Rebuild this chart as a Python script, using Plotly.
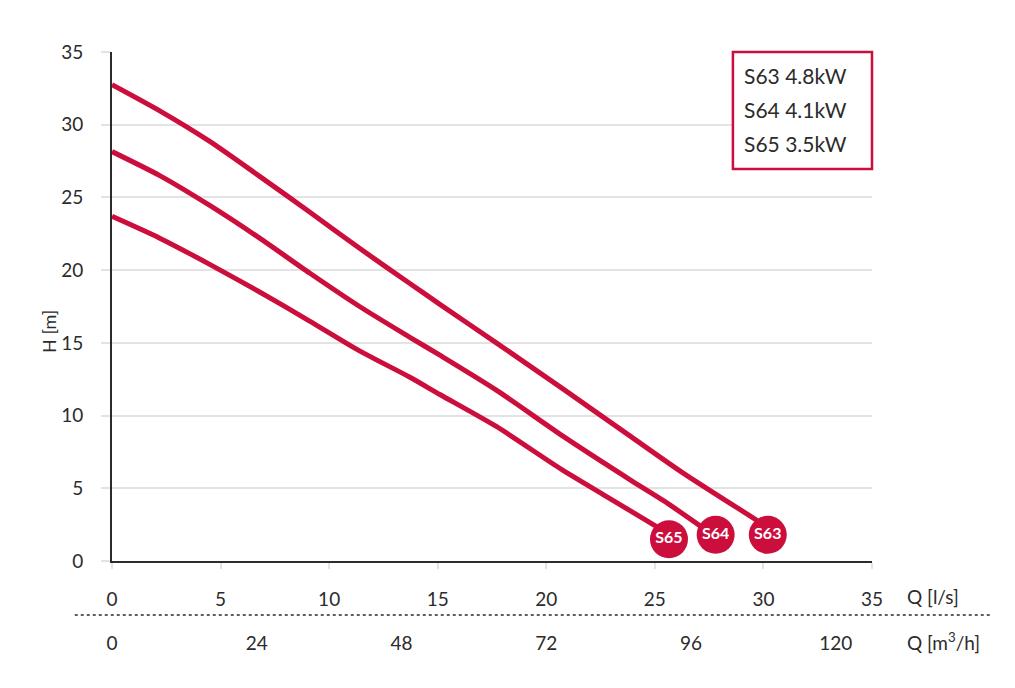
import plotly.graph_objects as go

# pump curves: flow Q [l/s] vs head H [m]
s63_q = [0, 2.2, 4.5, 6.8, 9.1, 11.4, 13.7, 15.1, 17.7, 20.8, 23.9, 26.2, 29.7]
s63_h = [32.75, 30.95, 28.85, 26.45, 24.0, 21.5, 19.1, 17.65, 15.0, 11.8, 8.55, 6.15, 2.8]
s64_q = [0, 2.2, 4.5, 6.8, 9.1, 11.4, 13.7, 15.1, 17.7, 20.8, 23.9, 25.4, 27.1]
s64_h = [28.15, 26.5, 24.45, 22.2, 19.8, 17.5, 15.4, 14.15, 11.75, 8.55, 5.55, 4.15, 2.4]
s65_q = [0, 2.2, 4.5, 6.8, 9.1, 11.4, 13.7, 15.1, 17.7, 20.7, 22.7, 25.1]
s65_h = [23.7, 22.2, 20.4, 18.5, 16.5, 14.45, 12.65, 11.45, 9.25, 6.3, 4.5, 2.35]

badge_names = ['S63', 'S64', 'S65']
badge_q = [30.2, 27.8, 25.65]
badge_h = [1.8, 1.8, 1.5]

legend_labels = ['S63 4.8kW', 'S64 4.1kW', 'S65 3.5kW']

ls_ticks = [0, 5, 10, 15, 20, 25, 30, 35]
m3h_ticks = [0, 24, 48, 72, 96, 120]
h_ticks = [0, 5, 10, 15, 20, 25, 30, 35]

RED = '#CC0E3D'
DARK = '#2b2b2b'
GRID = '#e3e3e3'
FONT = 'Lato'

fig = go.Figure()
for q, h in [(s63_q, s63_h), (s64_q, s64_h), (s65_q, s65_h)]:
    fig.add_trace(go.Scatter(x=q, y=h, mode='lines',
                             line=dict(color=RED, width=5, shape='spline', smoothing=0.7),
                             hoverinfo='skip', showlegend=False))

fig.add_trace(go.Scatter(x=badge_q, y=badge_h, mode='markers+text', text=badge_names,
                         marker=dict(color=RED, size=38, line=dict(width=0)),
                         textfont=dict(color='white', size=16, family=FONT, weight='bold'),
                         textposition='middle center', showlegend=False, hoverinfo='skip'))

# invisible trace so the m3/h axis is drawn
fig.add_trace(go.Scatter(x=[0, 126], y=[None, None], xaxis='x2', showlegend=False,
                         hoverinfo='skip'))

fig.update_layout(
    width=1015, height=688,
    margin=dict(l=104, r=151, t=44, b=135),
    plot_bgcolor='white', paper_bgcolor='white',
    font=dict(family=FONT, size=19, color=DARK),
    xaxis=dict(range=[0, 35], tickvals=ls_ticks, showgrid=False, zeroline=False,
               showline=True, linecolor=DARK, linewidth=2,
               ticks='outside', ticklen=6, tickcolor=GRID, tickwidth=1.5,
               ticklabelstandoff=14, automargin=False),
    xaxis2=dict(range=[0, 126], tickvals=m3h_ticks, overlaying='x', anchor='free',
                position=0, side='bottom', showgrid=False, zeroline=False,
                showline=False, ticks='', ticklabelstandoff=69, automargin=False),
    yaxis=dict(range=[0, 35], tickvals=h_ticks,
               showgrid=True, gridcolor=GRID, gridwidth=1.5, zeroline=False,
               showline=True, linecolor=DARK, linewidth=2,
               ticks='outside', ticklen=9, tickcolor=GRID, tickwidth=1.5,
               ticklabelstandoff=14, automargin=False),
)

# dotted separator between the two flow scales
fig.add_shape(type='line', xref='paper', yref='paper', x0=-0.049, x1=1.155,
              y0=-0.106, y1=-0.106, line=dict(color=DARK, width=1.5, dash='dot'))

# legend box
fig.add_shape(type='rect', xref='paper', yref='paper', x0=0.817, x1=1.0,
              y0=0.770, y1=1.0, line=dict(color=RED, width=2.5), fillcolor='white')
for i, lab in enumerate(legend_labels):
    fig.add_annotation(text=lab, xref='paper', yref='paper', x=0.829,
                       y=0.953 - i * 0.066, xanchor='left', yanchor='middle',
                       showarrow=False, font=dict(size=21, color=DARK))

fig.add_annotation(text='H [m]', xref='paper', yref='paper', x=-0.100, y=0.450,
                   textangle=-90, showarrow=False, font=dict(size=18))
fig.add_annotation(text='Q [l/s]', xref='paper', yref='paper', x=1.043, y=-0.0707,
                   xanchor='left', yanchor='middle', showarrow=False, font=dict(size=19))
fig.add_annotation(text='Q [m<sup>3</sup>/h]', xref='paper', yref='paper', x=1.043,
                   y=-0.159, xanchor='left', yanchor='middle', showarrow=False,
                   font=dict(size=19))

fig.write_html("out.html")
